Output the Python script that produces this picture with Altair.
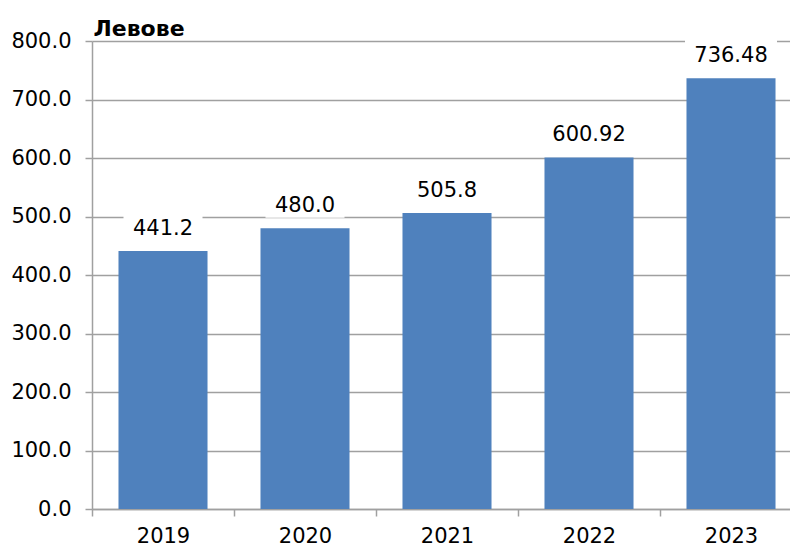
import altair as alt
import pandas as pd

years = ["2019", "2020", "2021", "2022", "2023"]
values = [441.2, 480.0, 505.8, 600.92, 736.48]
labels = ["441.2", "480.0", "505.8", "600.92", "736.48"]
y_ticks = [0, 100, 200, 300, 400, 500, 600, 700, 800]

FONT = "DejaVu Sans"
GRAY = "#a0a0a0"
BLUE = "#4f81bd"

df = pd.DataFrame({"year": years, "value": values, "label": labels})
base = alt.Chart(df)

x = alt.X(
    "year:N", sort=years,
    scale=alt.Scale(paddingInner=0, paddingOuter=0),
    axis=alt.Axis(title=None, tickBand="extent", labelAngle=0, labelFontSize=21,
                  labelFont=FONT, labelColor="black", labelPadding=9, tickSize=7,
                  tickColor=GRAY, domainColor=GRAY, domainWidth=1.5, tickWidth=1.5, grid=False),
)
y = alt.Y(
    "value:Q",
    scale=alt.Scale(domain=[0, 800], nice=False),
    axis=alt.Axis(values=y_ticks, format=".1f", title="Левове", titleAngle=0,
                  titleAlign="left", titleBaseline="alphabetic", titleX=1, titleY=-6,
                  titleFontSize=22, titleFontWeight="bold", titleFont=FONT, titleColor="black",
                  labelFontSize=21, labelFont=FONT, labelColor="black", labelPadding=14,
                  tickSize=7, tickColor=GRAY, tickWidth=1.5, domainColor=GRAY, domainWidth=1.5,
                  gridColor=GRAY, gridWidth=1.5),
)

bars = base.mark_bar(color=BLUE, width=alt.RelativeBandSize(0.627)).encode(x=x, y=y)

box = base.transform_calculate(
    bs="pow(13*length(datum.label)+14, 2)"
).mark_point(
    shape="M-1,-0.354L1,-0.354L1,0.354L-1,0.354Z", filled=True, fill="white",
    opacity=1, strokeWidth=0, yOffset=-24.5,
).encode(x=x, y="value:Q", size=alt.Size("bs:Q", scale=None, legend=None))

text = base.mark_text(
    baseline="alphabetic", dy=-16, fontSize=21, font=FONT, color="black"
).encode(x=x, y="value:Q", text="label:N")

chart = alt.layer(bars, box, text).properties(
    width=710, height=468,
    padding={"left": 92, "top": 41, "right": -12, "bottom": 39},
    autosize=alt.AutoSizeParams(type="none"),
).configure_view(stroke=None)

chart.save("out.html", embed_options={"renderer": "svg", "actions": False})
